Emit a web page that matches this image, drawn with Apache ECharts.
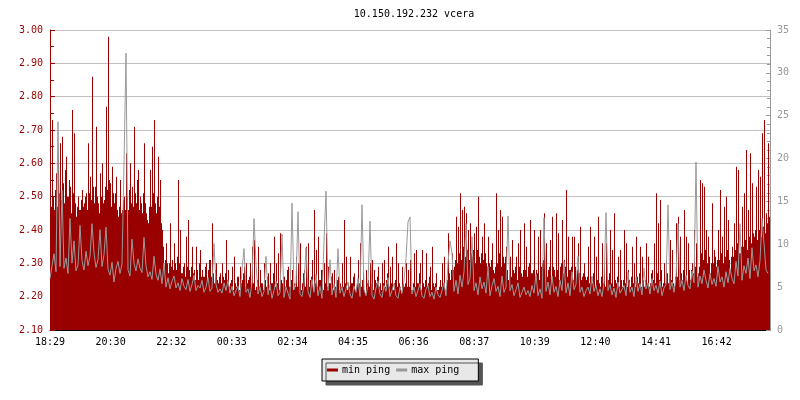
<!DOCTYPE html>
<html>
<head>
<meta charset="utf-8">
<script src="https://cdn.jsdelivr.net/npm/echarts@6/dist/echarts.min.js"></script>
<style>html,body{margin:0;padding:0;background:#fff}#c{width:800px;height:400px}</style>
</head>
<body>
<div id="c"></div>
<script>
const titleText = '10.150.192.232 vcera';
const tickLabels = ['18:29','20:30','22:32','00:33','02:34','04:35','06:36','08:37','10:39','12:40','14:41','16:42'];
const minStepMinutes = 2;
const maxStepMinutes = 4;
const minPing = [
2.50,2.47,2.73,2.50,2.46,2.52,2.57,2.47,2.61,2.51,2.66,2.49,2.68,2.54,2.48,2.58,2.62,2.50,2.50,2.55,
2.53,2.45,2.76,2.51,2.69,2.48,2.44,2.47,2.50,2.46,2.46,2.49,2.52,2.47,2.48,2.50,2.51,2.46,2.66,2.51,
2.56,2.49,2.86,2.53,2.48,2.53,2.71,2.50,2.48,2.45,2.57,2.50,2.60,2.48,2.49,2.53,2.77,2.52,2.98,2.55,
2.54,2.47,2.59,2.51,2.48,2.51,2.56,2.46,2.44,2.47,2.55,2.45,2.46,2.49,2.50,2.46,2.63,2.50,2.46,2.52,
2.60,2.48,2.53,2.47,2.71,2.51,2.48,2.55,2.58,2.46,2.50,2.48,2.45,2.51,2.66,2.48,2.45,2.43,2.42,2.47,
2.58,2.47,2.65,2.51,2.73,2.48,2.45,2.50,2.62,2.47,2.55,2.42,2.40,2.35,2.29,2.31,2.36,2.30,2.27,2.30,
2.42,2.29,2.31,2.28,2.36,2.30,2.28,2.32,2.55,2.30,2.40,2.27,2.27,2.29,2.30,2.26,2.38,2.29,2.43,2.28,
2.26,2.29,2.35,2.27,2.28,2.25,2.35,2.28,2.25,2.30,2.34,2.26,2.28,2.26,2.26,2.29,2.30,2.25,2.28,2.31,
2.31,2.26,2.42,2.27,2.24,2.28,2.30,2.25,2.24,2.26,2.27,2.24,2.30,2.26,2.25,2.27,2.37,2.25,
2.28,2.23,2.24,2.25,2.29,2.22,2.32,2.24,2.23,2.26,2.26,2.22,2.29,2.24,2.25,2.27,2.29,2.23,2.30,2.24,
2.25,2.26,2.30,2.23,2.35,2.24,2.37,2.22,2.23,2.25,2.35,2.23,2.28,2.24,2.24,2.22,2.30,2.25,2.23,2.26,
2.27,2.22,2.30,2.24,2.24,2.27,2.38,2.23,2.30,2.24,2.33,2.22,2.39,2.25,2.24,2.26,2.26,2.23,2.25,2.28,
2.29,2.23,2.23,2.25,2.28,2.22,2.24,2.23,2.32,2.23,2.30,2.25,2.36,2.22,2.24,2.27,2.28,2.23,2.35,2.24,
2.36,2.23,2.25,2.26,2.31,2.22,2.46,2.24,2.34,2.23,2.38,2.25,2.25,2.28,2.28,2.22,2.30,2.24,2.39,2.23,
2.29,2.24,2.24,2.26,2.27,2.22,2.28,2.23,2.23,2.25,2.26,2.22,2.24,2.23,2.30,2.23,2.43,2.24,2.32,2.22,
2.24,2.23,2.32,2.24,2.24,2.26,2.27,2.22,2.23,2.24,2.31,2.24,2.36,2.23,2.25,2.27,2.22,2.21,2.28,2.24,
2.25,2.23,2.30,2.24,2.31,2.22,2.28,2.25,2.24,2.26,2.29,2.23,2.24,2.22,2.30,2.24,2.31,2.23,2.25,2.27,
2.35,2.23,2.29,2.24,2.32,2.22,2.24,2.25,2.36,2.23,2.30,2.24,2.23,2.21,2.29,2.24,2.23,2.24,2.30,2.23,
2.28,2.23,2.31,2.22,2.22,2.24,2.33,2.23,2.34,2.24,2.24,2.27,2.30,2.22,2.34,2.24,2.23,2.25,2.33,2.23,
2.24,2.26,2.29,2.22,2.35,2.24,2.23,2.24,2.27,2.22,2.22,2.23,2.25,2.23,2.30,2.24,2.32,2.22,2.23,2.25,
2.39,2.27,2.25,2.28,2.33,2.28,2.29,2.31,2.44,2.30,2.41,2.33,2.51,2.31,2.46,2.35,2.47,2.32,2.45,2.34,
2.40,2.31,2.42,2.33,2.32,2.34,2.39,2.30,2.41,2.34,2.50,2.32,2.30,2.33,2.38,2.31,2.42,2.33,2.30,2.29,
2.38,2.30,2.29,2.31,2.36,2.28,2.27,2.29,2.51,2.30,2.40,2.33,2.46,2.29,2.44,2.32,2.30,2.32,2.35,2.28,
2.25,2.27,2.32,2.26,2.37,2.28,2.27,2.29,2.32,2.25,2.36,2.29,2.40,2.27,2.26,2.28,2.42,2.28,2.35,2.26,
2.29,2.30,2.43,2.27,2.27,2.28,2.40,2.26,2.28,2.27,2.38,2.25,2.40,2.29,2.30,2.31,2.45,2.27,2.36,2.26,
2.28,2.29,2.37,2.25,2.44,2.29,2.28,2.26,2.45,2.28,2.39,2.25,2.29,2.30,2.43,2.27,2.31,2.29,2.52,2.26,
2.38,2.28,2.28,2.29,2.38,2.25,2.38,2.29,2.26,2.28,2.36,2.27,2.41,2.25,2.26,2.27,2.30,2.26,2.25,2.26,
2.35,2.24,2.41,2.26,2.24,2.27,2.38,2.23,2.32,2.25,2.44,2.24,2.23,2.26,2.36,2.24,2.30,2.23,2.36,2.26,
2.25,2.27,2.40,2.24,2.34,2.23,2.45,2.25,2.24,2.26,2.32,2.23,2.34,2.25,2.23,2.25,2.40,2.24,2.36,2.23,
2.28,2.25,2.23,2.26,2.35,2.24,2.30,2.23,2.38,2.26,2.24,2.27,2.35,2.23,2.32,2.25,2.23,2.25,2.36,2.24,
2.32,2.23,2.24,2.27,2.28,2.25,2.36,2.24,2.51,2.27,2.42,2.25,2.49,2.28,2.23,2.24,2.30,2.24,2.31,2.27,
2.24,2.27,2.37,2.25,2.34,2.24,2.23,2.26,2.42,2.26,2.44,2.25,2.38,2.27,2.25,2.28,2.46,2.26,2.38,2.24,
2.36,2.28,2.25,2.28,2.30,2.27,2.40,2.29,2.36,2.26,2.27,2.29,2.55,2.33,2.54,2.31,2.53,2.34,2.40,2.30,
2.38,2.32,2.27,2.30,2.48,2.30,2.34,2.32,2.29,2.31,2.40,2.31,2.52,2.33,2.38,2.30,2.47,2.32,2.50,2.34,
2.43,2.31,2.28,2.32,2.35,2.32,2.42,2.34,2.59,2.36,2.58,2.33,2.33,2.35,2.47,2.35,2.51,2.37,2.64,2.34,
2.46,2.38,2.63,2.36,2.54,2.39,2.38,2.40,2.53,2.37,2.58,2.40,2.56,2.38,2.69,2.41,2.73,2.39,2.45,2.42,2.66,2.44
];
const maxPing = [
6.0,7.5,8.9,6.8,24.3,7.4,16.3,7.2,8.4,6.6,
13.0,7.8,10.4,6.9,7.6,12.2,8.1,7.0,9.2,7.5,
8.6,12.4,9.0,7.3,8.2,11.7,7.4,8.8,12.0,7.1,
6.4,7.9,5.6,7.2,8.0,6.6,7.7,19.4,32.3,7.0,
6.3,10.6,7.8,6.9,8.3,7.2,6.7,10.8,7.5,6.2,
6.8,5.9,8.6,6.5,5.8,7.1,5.4,7.8,5.0,6.1,
4.8,5.7,6.3,4.9,5.5,4.6,6.0,5.1,4.7,5.9,
4.5,5.3,6.4,4.6,5.2,4.9,5.8,4.4,5.0,6.1,
4.5,4.9,10.1,5.3,4.4,4.8,4.3,5.5,4.6,
5.8,4.3,5.1,4.0,4.6,5.1,3.9,7.0,9.5,4.4,
4.8,3.8,5.6,13.0,7.8,4.2,5.0,3.9,4.5,8.6,
4.1,5.3,3.7,4.6,5.7,4.0,4.4,11.2,3.8,5.0,
4.3,3.6,14.8,4.7,5.5,13.8,4.2,3.9,5.2,9.6,
4.5,3.8,5.9,4.4,6.5,4.0,5.1,3.7,10.3,16.2,
4.6,8.2,4.1,5.4,3.8,9.5,4.3,5.0,3.9,4.8,
5.6,4.2,3.7,5.1,4.4,6.0,3.9,14.6,4.7,4.0,
5.3,12.7,4.1,3.6,4.9,5.7,4.2,3.8,5.2,4.5,
6.1,3.9,4.6,5.4,4.0,3.7,5.0,4.3,5.8,8.3,
12.6,13.2,4.2,5.0,3.9,4.6,5.4,4.0,3.7,4.8,
5.2,3.9,4.4,3.6,5.0,4.1,3.8,4.6,5.5,4.0,
7.8,10.4,9.0,4.5,5.8,4.2,6.4,5.0,6.8,12.4,
5.3,6.0,10.9,4.6,5.5,4.1,6.2,4.8,5.6,4.3,
7.4,4.0,5.2,6.0,4.5,5.1,3.9,6.3,4.4,5.0,
13.3,4.6,5.3,4.0,4.7,5.5,3.8,4.4,5.0,4.1,
4.6,3.9,5.2,4.3,6.5,4.0,4.8,3.7,13.1,4.5,
5.6,4.1,6.3,4.4,5.1,3.9,5.8,4.6,8.0,4.3,
5.5,4.0,6.8,4.7,5.3,8.6,4.4,5.0,3.9,4.6,
5.0,4.2,6.3,4.5,5.2,4.0,4.8,3.9,5.5,13.7,
4.6,5.3,4.1,4.9,3.8,5.6,4.3,4.7,5.2,4.0,
6.8,4.4,5.0,3.9,6.2,4.5,5.4,4.1,7.2,4.8,
5.5,4.2,6.0,4.6,5.2,4.3,5.7,4.0,4.9,5.3,
14.6,4.7,5.6,4.4,6.1,12.4,5.0,5.8,4.6,6.4,
5.2,4.8,6.9,5.5,19.6,5.0,6.3,5.4,7.0,5.8,
4.9,6.6,5.3,6.0,5.1,7.4,5.6,6.2,5.0,6.8,
5.5,7.2,6.0,5.4,8.0,6.3,12.4,5.8,7.5,6.6,
8.4,6.0,9.6,6.9,7.6,6.2,8.1,13.0,10.1,7.0,6.6
];

const tickInterval = 121.2;
// each min-ping sample drawn as a 1px bar centred on its 2-minute bin
const minData = minPing.map((v, i) => [i * minStepMinutes + minStepMinutes / 2, v]);
const maxData = maxPing.map((v, i) => [i * maxStepMinutes, v]);
const FONT = 'DejaVu Sans Mono';
const RED = '#990000';
const GRAY = '#999999';

const chart = echarts.init(document.getElementById('c'), null, {renderer: 'canvas'});
chart.setOption({
  animation: false,
  title: {
    text: titleText, left: 409, top: 4, textAlign: 'center',
    textStyle: {fontFamily: FONT, fontSize: 10, fontWeight: 'normal', color: '#000'}
  },
  legend: {
    left: 322, top: 359,
    padding: [6, 19, 6, 5],
    itemGap: 6, itemWidth: 11, itemHeight: 3,
    backgroundColor: '#e8e8e8', borderColor: '#000', borderWidth: 1,
    shadowColor: '#555', shadowOffsetX: 4, shadowOffsetY: 4, shadowBlur: 0,
    textStyle: {fontFamily: FONT, fontSize: 10, color: '#000', padding: [0, 0, 0, -1]},
    data: [{name: 'min ping', icon: 'rect'}, {name: 'max ping', icon: 'rect'}]
  },
  grid: {left: 50, right: 30, top: 30, bottom: 70, containLabel: false},
  xAxis: {
    type: 'value', min: 0, max: 1440, interval: tickInterval,
    axisLine: {show: true, lineStyle: {color: '#000', width: 1}},
    axisTick: {show: true, inside: true, length: 5, lineStyle: {color: '#000'}},
    splitLine: {show: false},
    axisLabel: {
      fontFamily: FONT, fontSize: 10, color: '#000', margin: 7, showMaxLabel: false,
      formatter: v => {
        const k = Math.round(v / tickInterval);
        return Math.abs(k * tickInterval - v) < 0.01 && k < tickLabels.length ? tickLabels[k] : '';
      }
    }
  },
  yAxis: [{
    type: 'value', position: 'left', min: 2.1, max: 3.0, interval: 0.1,
    axisLine: {show: true, lineStyle: {color: RED, width: 1}},
    axisTick: {show: true, inside: true, length: 5, lineStyle: {color: RED}},
    minorTick: {show: true, splitNumber: 2, length: 4, lineStyle: {color: RED}},
    splitLine: {show: true, lineStyle: {color: '#c0c0c0', width: 1}},
    axisLabel: {fontFamily: FONT, fontSize: 10, color: RED, margin: 7, formatter: v => v.toFixed(2)}
  }, {
    type: 'value', position: 'right', min: 0, max: 35, interval: 5,
    axisLine: {show: true, lineStyle: {color: GRAY, width: 1}},
    axisTick: {show: true, inside: true, length: 4, lineStyle: {color: GRAY}},
    minorTick: {show: true, splitNumber: 5, length: 3, lineStyle: {color: GRAY}},
    splitLine: {show: false},
    axisLabel: {fontFamily: FONT, fontSize: 10, color: GRAY, margin: 7}
  }],
  series: [{
    name: 'min ping', type: 'bar', yAxisIndex: 0, barWidth: 1,
    color: RED, itemStyle: {color: RED, borderWidth: 0},
    clip: true, data: minData, z: 2
  }, {
    name: 'max ping', type: 'line', yAxisIndex: 1, step: 'end', symbol: 'none',
    color: GRAY, lineStyle: {color: GRAY, width: 1},
    data: maxData, z: 3
  }]
});
</script>
</body>
</html>
